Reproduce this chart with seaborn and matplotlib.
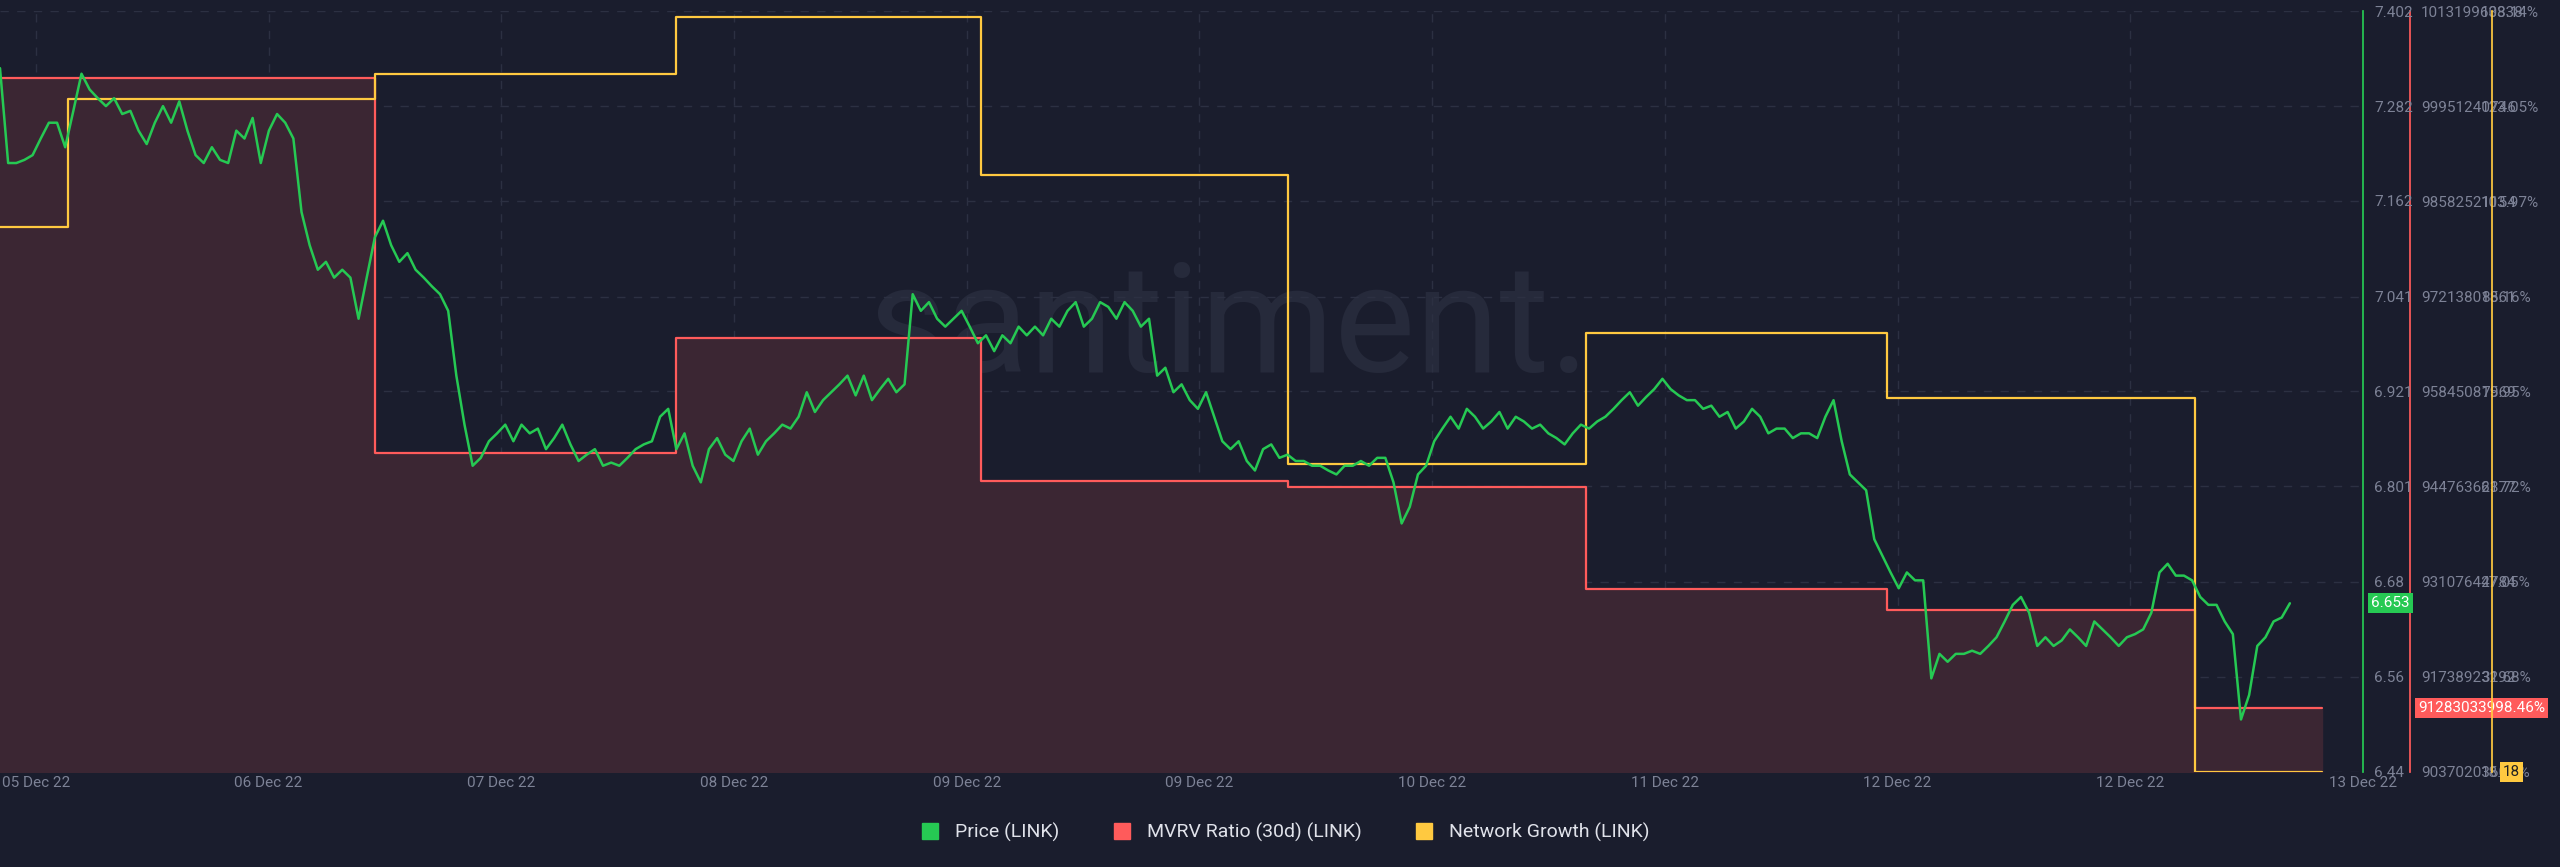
import numpy as np
import pandas as pd
import matplotlib
matplotlib.use("Agg")
import matplotlib.pyplot as plt
import seaborn as sns
from matplotlib.lines import Line2D

# ----------------------------
# Data
# ----------------------------
price = [
    7.330, 7.210, 7.210, 7.214, 7.220, 7.241, 7.261, 7.261, 7.230, 7.276,
    7.323, 7.303, 7.292, 7.282, 7.292, 7.272, 7.276, 7.251, 7.234, 7.261,
    7.282, 7.261, 7.288, 7.251, 7.220, 7.210, 7.230, 7.214, 7.210, 7.251,
    7.241, 7.267, 7.210, 7.251, 7.272, 7.261, 7.241, 7.148, 7.106, 7.075,
    7.085, 7.065, 7.075, 7.065, 7.013, 7.065, 7.116, 7.137, 7.106, 7.085,
    7.096, 7.075, 7.065, 7.054, 7.044, 7.023, 6.941, 6.879, 6.827, 6.837,
    6.858, 6.868, 6.879, 6.858, 6.879, 6.868, 6.874, 6.848, 6.862, 6.879,
    6.854, 6.833, 6.841, 6.848, 6.827, 6.831, 6.827, 6.837, 6.848, 6.854,
    6.858, 6.889, 6.899, 6.848, 6.868, 6.827, 6.806, 6.848, 6.862, 6.841,
    6.833, 6.858, 6.874, 6.841, 6.858, 6.868, 6.879, 6.874, 6.889, 6.920,
    6.895, 6.910, 6.920, 6.930, 6.941, 6.916, 6.941, 6.910, 6.924, 6.937,
    6.920, 6.930, 7.044, 7.023, 7.034, 7.013, 7.003, 7.013, 7.023, 7.003,
    6.982, 6.992, 6.972, 6.992, 6.982, 7.003, 6.992, 7.003, 6.992, 7.013,
    7.003, 7.023, 7.034, 7.003, 7.013, 7.034, 7.028, 7.013, 7.034, 7.023,
    7.003, 7.013, 6.941, 6.951, 6.920, 6.930, 6.910, 6.899, 6.920, 6.889,
    6.858, 6.848, 6.858, 6.833, 6.821, 6.848, 6.854, 6.837, 6.841, 6.833,
    6.833, 6.827, 6.827, 6.821, 6.816, 6.827, 6.827, 6.833, 6.827, 6.837,
    6.837, 6.806, 6.754, 6.775, 6.816, 6.827, 6.858, 6.874, 6.889, 6.874,
    6.899, 6.889, 6.874, 6.883, 6.895, 6.874, 6.889, 6.883, 6.874, 6.879,
    6.868, 6.862, 6.854, 6.868, 6.879, 6.874, 6.883, 6.889, 6.899, 6.910,
    6.920, 6.903, 6.914, 6.924, 6.937, 6.924, 6.916, 6.910, 6.910, 6.899,
    6.903, 6.889, 6.895, 6.874, 6.883, 6.899, 6.889, 6.868, 6.874, 6.874,
    6.862, 6.868, 6.868, 6.862, 6.889, 6.910, 6.858, 6.816, 6.806, 6.796,
    6.734, 6.713, 6.692, 6.672, 6.692, 6.682, 6.682, 6.558, 6.589, 6.579,
    6.589, 6.589, 6.593, 6.589, 6.599, 6.610, 6.630, 6.651, 6.661, 6.641,
    6.599, 6.610, 6.599, 6.606, 6.620, 6.610, 6.599, 6.630, 6.620, 6.610,
    6.599, 6.610, 6.614, 6.620, 6.641, 6.692, 6.703, 6.688, 6.688, 6.682,
    6.661, 6.651, 6.651, 6.630, 6.614, 6.506, 6.537, 6.599, 6.610, 6.630,
    6.635, 6.653,
]
price_end = 9.771  # time of last price point (tick units)

# step series: change times (tick units) and values
step_times = [0, 0.292, 1.599, 2.886, 4.186, 5.494, 6.766, 8.053, 9.367, 9.910]
mvrv = [1.00355e11, 1.00355e11, 9.4962e10, 9.6610e10, 9.4562e10, 9.4468e10,
        9.3007e10, 9.2701e10, 9.1283e10, 9.1283e10]
growth = [218, 265, 274, 295, 237, 131, 179, 155, 18, 18]

date_labels = ["05 Dec 22", "06 Dec 22", "07 Dec 22", "08 Dec 22", "09 Dec 22",
               "09 Dec 22", "10 Dec 22", "11 Dec 22", "12 Dec 22", "12 Dec 22",
               "13 Dec 22"]
price_ticks = [6.44, 6.56, 6.68, 6.801, 6.921, 7.041, 7.162, 7.282, 7.402]
growth_labels = ["18.48%", "32.68%", "47.05%", "61.72%", "75.95%",
                 "88.16%", "103.97%", "123.05%", "138.14%"]
mvrv_lo, mvrv_hi = 90370203600, 101319960338

# ----------------------------
# Style
# ----------------------------
BG = "#1a1d2d"
GRID = "#2c3042"
TXT = "#7d8296"
GREEN, RED, YELLOW = "#26c953", "#ff5b5b", "#ffc940"

sns.set_theme(style="dark")
plt.rcParams["font.family"] = ["Roboto", "DejaVu Sans"]

fig = plt.figure(figsize=(25.6, 8.67), dpi=100, facecolor=BG)
ax = fig.add_axes([0.0, 0.11, 2363 / 2560, 0.877])
ax.set_facecolor(BG)
ax2 = ax.twinx()
ax3 = ax.twinx()
ax4 = ax.twinx()

xlim = (0, 9.96)
t_price = np.linspace(0, price_end, len(price))
df_price = pd.DataFrame({"t": t_price, "price": price})
df_steps = pd.DataFrame({"t": step_times, "mvrv": mvrv, "growth": growth})

# MVRV (red) step + fill
ax2.fill_between(df_steps["t"], df_steps["mvrv"], mvrv_lo, step="post",
                 color="#3b2633", zorder=1)
sns.lineplot(data=df_steps, x="t", y="mvrv", ax=ax2, color=RED, lw=1.6,
             drawstyle="steps-post")
ax2.set_ylim(mvrv_lo, mvrv_hi)

# Network growth (yellow) step
sns.lineplot(data=df_steps, x="t", y="growth", ax=ax3, color=YELLOW, lw=1.6,
             drawstyle="steps-post")
ax3.set_ylim(18, 18 + 462 * 0.6 / 0.9935)

# Price (green)
sns.lineplot(data=df_price, x="t", y="price", ax=ax4, color=GREEN, lw=1.8)
ax4.set_ylim(6.44, 7.402)
ax.set_ylim(6.44, 7.402)

for a in (ax, ax2, ax3, ax4):
    a.set_xlim(*xlim)
    a.set_xlabel("")
    a.set_ylabel("")
    for s in a.spines.values():
        s.set_visible(False)
for a in (ax2, ax3, ax4):
    a.patch.set_visible(False)
    a.grid(False)

# grid on base axis
ax.set_xticks([0.153 + i * 0.993 for i in range(len(date_labels))])
ax.set_xticklabels(date_labels, color=TXT, fontsize=11)
ax.set_yticks(price_ticks)
ax.set_yticklabels([])
ax.tick_params(axis="both", length=0)
ax.grid(True, color=GRID, ls=(0, (6, 6)), lw=1)

# price axis labels
ax4.set_yticks(price_ticks)
ax4.set_yticklabels([f"{v:g}" for v in price_ticks])
ax4.spines["right"].set_visible(True)
ax4.spines["right"].set_color(GREEN)
ax4.tick_params(axis="y", length=0, pad=8, labelcolor=TXT, labelsize=11)

# mvrv axis labels
mv_ticks = np.linspace(mvrv_lo, mvrv_hi, len(price_ticks))
ax2.set_yticks(mv_ticks)
ax2.set_yticklabels([f"{v:.0f}" for v in mv_ticks])
ax2.spines["right"].set_visible(True)
ax2.spines["right"].set_position(("axes", 2410 / 2363))
ax2.spines["right"].set_color(RED)
ax2.tick_params(axis="y", length=0, pad=8, labelcolor=TXT, labelsize=11)

# network growth axis labels (overlapping, as in the source)
g_ticks = np.linspace(ax3.get_ylim()[0], ax3.get_ylim()[1], len(price_ticks))
ax3.set_yticks(g_ticks)
ax3.set_yticklabels(growth_labels)
ax3.spines["right"].set_visible(True)
ax3.spines["right"].set_position(("axes", 2492 / 2363))
ax3.spines["right"].set_color(YELLOW)
ax3.tick_params(axis="y", length=0, pad=-8, labelcolor=TXT, labelsize=11)

# value badges
ax4.annotate(f"{price[-1]:.3f}", xy=(1.0, price[-1]), xycoords=("axes fraction", "data"),
             xytext=(6, 0), textcoords="offset points", va="center", fontsize=11,
             color="white", bbox=dict(boxstyle="square,pad=0.2", fc=GREEN, ec="none"))
ax2.annotate("91283033998.46%", xy=(2410 / 2363, mvrv[-1]),
             xycoords=("axes fraction", "data"), xytext=(6, 0),
             textcoords="offset points", va="center", fontsize=11, color="white",
             bbox=dict(boxstyle="square,pad=0.2", fc=RED, ec="none"))
ax3.annotate(f"{growth[-1]}", xy=(2492 / 2363, growth[-1]),
             xycoords=("axes fraction", "data"), xytext=(8, 0),
             textcoords="offset points", va="center", fontsize=11, color="#222",
             bbox=dict(boxstyle="square,pad=0.2", fc=YELLOW, ec="none"))

# watermark
ax.text(0.52, 0.58, "santiment.", transform=ax.transAxes, fontsize=110,
        color="#262a3b", ha="center", va="center", zorder=0)

# legend
handles = [Line2D([], [], marker="s", ls="", color=c, markersize=11)
           for c in (GREEN, RED, YELLOW)]
fig.legend(handles, ["Price (LINK)", "MVRV Ratio (30d) (LINK)", "Network Growth (LINK)"],
           loc="center", bbox_to_anchor=(0.5, 0.04), ncol=3, frameon=False,
           fontsize=14, labelcolor="#e0e2ea", handletextpad=0.3, columnspacing=2.2)

fig.savefig("out.png", dpi=100, facecolor=BG)
